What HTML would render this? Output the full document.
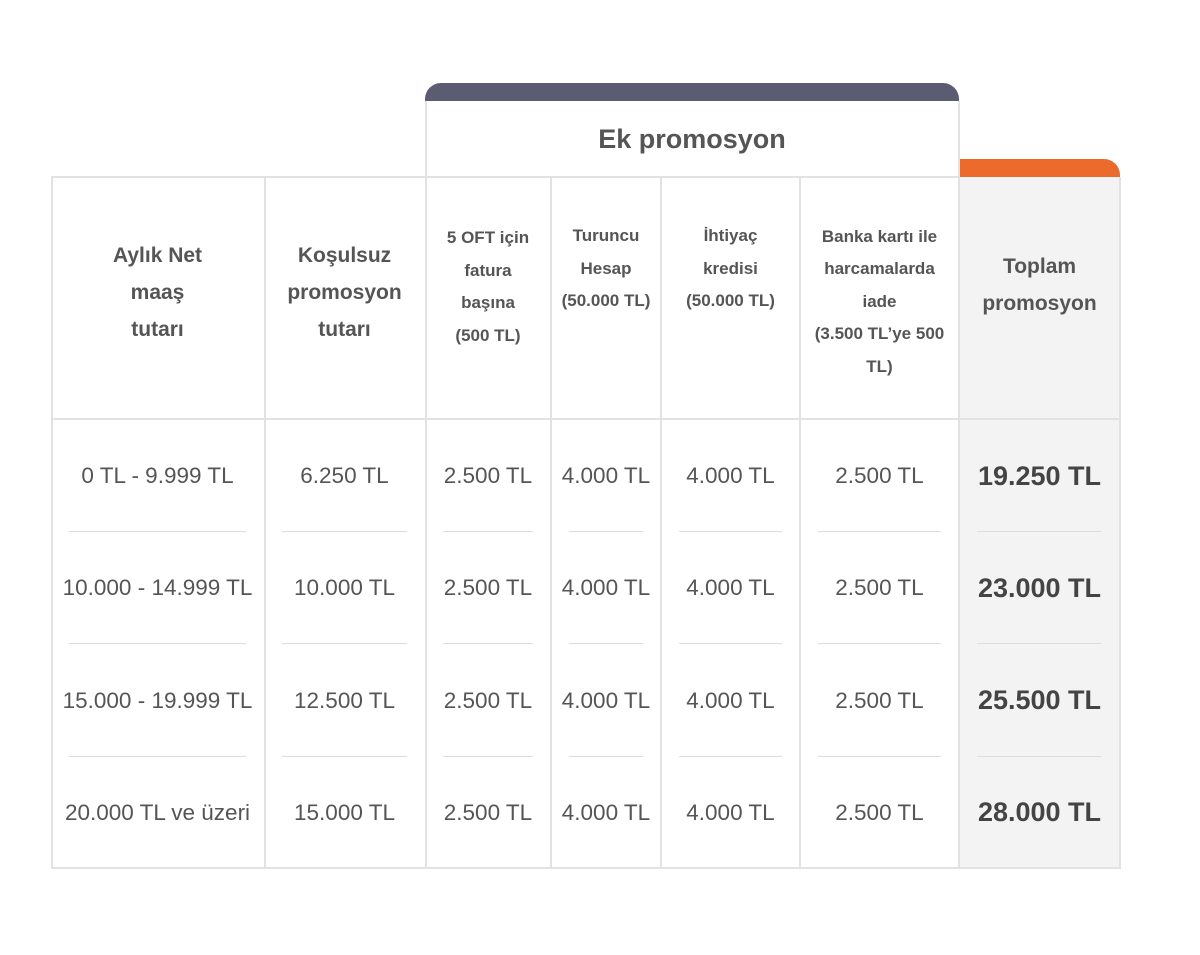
<!DOCTYPE html>
<html><head><meta charset="utf-8"><style>
body{margin:0;width:1200px;height:955px;background:#fff;position:relative;font-family:"Liberation Sans","DejaVu Sans",sans-serif;color:#555;overflow:hidden}
.a{position:absolute}
.vl{position:absolute;width:2px;background:#e2e2e2}
.hl{position:absolute;height:2px;background:#e2e2e2}
.c{position:absolute;display:flex;align-items:center;justify-content:center;text-align:center}
.h1{font-weight:bold;font-size:21px;line-height:37px;color:#555}
.h2{font-weight:bold;font-size:17px;line-height:32.5px;color:#555}
.d{font-size:22.5px;color:#555;white-space:nowrap}
.t{font-size:27px;font-weight:bold;color:#444}
</style></head><body>
<div class="a" style="left:959px;top:177px;width:161px;height:691px;background:#f3f3f3"></div>
<div class="a" style="left:425px;top:83px;width:534px;height:18px;background:#5b5c72;border-radius:16px 16px 0 0"></div>
<div class="a" style="left:959px;top:159px;width:161px;height:18px;background:#ec6a2c;border-radius:0 16px 0 0"></div>
<div class="c" style="left:425px;top:101px;width:534px;height:76px;font-weight:bold;font-size:27px;color:#555">Ek promosyon</div>
<div class="vl" style="left:425px;top:101px;height:767px"></div>
<div class="vl" style="left:958px;top:101px;height:767px"></div>
<div class="vl" style="left:51px;top:177px;height:692px"></div>
<div class="vl" style="left:264px;top:177px;height:692px"></div>
<div class="vl" style="left:550px;top:177px;height:692px"></div>
<div class="vl" style="left:660px;top:177px;height:692px"></div>
<div class="vl" style="left:799px;top:177px;height:692px"></div>
<div class="vl" style="left:1119px;top:177px;height:692px"></div>
<div class="hl" style="left:51px;top:176px;width:374px"></div>
<div class="hl" style="left:425px;top:176px;width:534px"></div>
<div class="hl" style="left:51px;top:418px;width:1070px"></div>
<div class="hl" style="left:51px;top:867px;width:1070px"></div>
<div class="c h1" style="left:51px;top:177px;width:213px;height:230px">Aylık Net<br>maaş<br>tutarı</div>
<div class="c h1" style="left:264px;top:177px;width:161px;height:230px">Koşulsuz<br>promosyon<br>tutarı</div>
<div class="c h2" style="left:425px;top:177px;width:126px;height:220px">5 OFT için<br>fatura<br>başına<br>(500 TL)</div>
<div class="c h2" style="left:551px;top:177px;width:110px;height:184px">Turuncu<br>Hesap<br>(50.000 TL)</div>
<div class="c h2" style="left:661px;top:177px;width:139px;height:184px">İhtiyaç<br>kredisi<br>(50.000 TL)</div>
<div class="c h2" style="left:800px;top:177px;width:159px;height:250px">Banka kartı ile<br>harcamalarda<br>iade<br>(3.500 TL’ye 500<br>TL)</div>
<div class="c h1" style="left:959px;top:177px;width:161px;height:216px">Toplam<br>promosyon</div>
<div id="rows"></div>
<script>
var data=[["0 TL - 9.999 TL","6.250 TL","19.250 TL"],["10.000 - 14.999 TL","10.000 TL","23.000 TL"],["15.000 - 19.999 TL","12.500 TL","25.500 TL"],["20.000 TL ve üzeri","15.000 TL","28.000 TL"]];
var cols=[[51,213],[264,161],[425,126],[551,110],[661,139],[800,159],[959,161]];
var h='';
data.forEach(function(r,i){
 var cy=476+i*112.3;
 var vals=[r[0],r[1],"2.500 TL","4.000 TL","4.000 TL","2.500 TL",r[2]];
 cols.forEach(function(c,j){
  h+='<div class="c '+(j==6?'t':'d')+'" style="left:'+c[0]+'px;top:'+(cy-20)+'px;width:'+c[1]+'px;height:40px">'+vals[j]+'</div>';
  if(i<3){h+='<div class="hl" style="left:'+(c[0]+18)+'px;top:'+Math.round(cy+55)+'px;width:'+(c[1]-36)+'px;height:1px;background:#ddd"></div>';}
 });
});
document.getElementById('rows').innerHTML=h;
</script>
</body></html>
